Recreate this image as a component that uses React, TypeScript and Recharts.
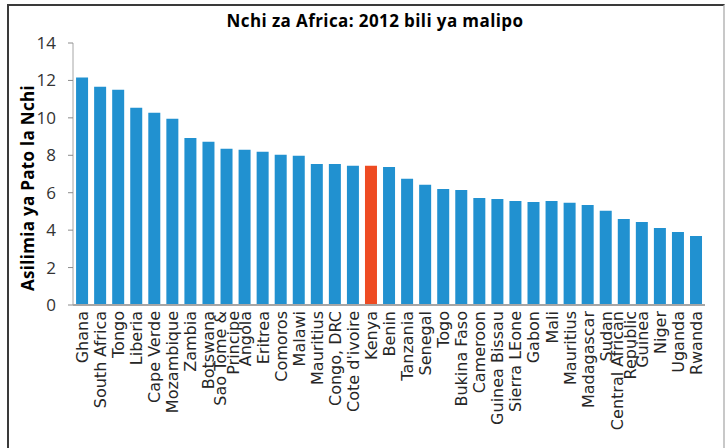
import React from 'react'
import { BarChart, Bar, XAxis, YAxis, Cell } from 'recharts'

const countries = [
  'Ghana', 'South Africa', 'Tongo', 'Liberia', 'Cape Verde', 'Mozambique', 'Zambia',
  'Botswana', 'Sao Tome &\nPrincipe', 'Angola', 'Eritrea', 'Comoros', 'Malawi', 'Mauritius',
  'Congo, DRC', "Cote d'ivoire", 'Kenya', 'Benin', 'Tanzania', 'Senegal', 'Togo',
  'Bukina Faso', 'Cameroon', 'Guinea Bissau', 'Sierra LEone', 'Gabon', 'Mali', 'Mauritius',
  'Madagascar', 'Sudan', 'Central African\nRepublic', 'Guinea', 'Niger', 'Uganda', 'Rwanda',
]
const values = [
  12.15, 11.66, 11.5, 10.54, 10.27, 9.95, 8.93,
  8.72, 8.35, 8.3, 8.19, 8.03, 7.97, 7.54,
  7.54, 7.44, 7.44, 7.38, 6.74, 6.42, 6.2,
  6.15, 5.72, 5.67, 5.56, 5.51, 5.56, 5.46,
  5.35, 5.03, 4.6, 4.44, 4.12, 3.9, 3.69,
]
const yTicks = [0, 2, 4, 6, 8, 10, 12, 14]
const highlight = 'Kenya'

const BLUE = '#2191d0'
const RED = '#ee4b22'
const FONT = '"Open Sans", "DejaVu Sans", sans-serif'
const LABEL_FONT = '"DejaVu Sans", sans-serif'

const data = countries.map((name, i) => ({ name, value: values[i] }))

// rotated category labels, some split over two lines
function CountryTick(props: any) {
  const { x, y, payload } = props
  const lines = String(payload.value).split('\n')
  const lh = 13
  const start = -((lines.length - 1) * lh) / 2
  return (
    <g transform={`translate(${x},${y})`}>
      <text
        transform="rotate(-90)"
        textAnchor="end"
        fontFamily={LABEL_FONT}
        fontSize={16}
        fill="#262626"
      >
        {lines.map((l, i) => (
          <tspan key={i} x={2} y={start + i * lh + 6}>{l}</tspan>
        ))}
      </text>
    </g>
  )
}

export default function App() {
  return (
    <div style={{ position: 'absolute', left: 0, top: 0, width: 726, height: 448, overflow: 'hidden', background: '#fff' }}>
      <div
        style={{
          position: 'absolute', left: 7, top: 4, width: 714, height: 470,
          borderTop: '2px solid #3a3a3a', borderLeft: '2px solid #3a3a3a', borderRight: '2px solid #c8c8c8',
        }}
      />
      <div style={{ position: 'absolute', left: 0, top: 0 }}>
        <BarChart
          width={726}
          height={448}
          data={data}
          margin={{ top: 43, right: 21, left: 0, bottom: 0 }}
          barCategoryGap="17%"
        >
          <text x={375} y={27} textAnchor="middle" fontFamily={FONT} fontWeight={700} fontSize={17} letterSpacing={0.4} fill="#000">
            Nchi za Africa: 2012 bili ya malipo
          </text>
          <text
            transform="translate(34,188) rotate(-90)"
            textAnchor="middle"
            fontFamily={FONT}
            fontWeight={700}
            fontSize={17}
            letterSpacing={0.3}
            fill="#000"
          >
            Asilimia ya Pato la Nchi
          </text>
          <XAxis
            dataKey="name"
            interval={0}
            tickLine={false}
            axisLine={{ stroke: '#a6a6a6', strokeWidth: 2 }}
            height={143}
            tick={<CountryTick />}
          />
          <YAxis
            width={73}
            domain={[0, 14]}
            ticks={yTicks}
            tickSize={5}
            tickMargin={12}
            axisLine={{ stroke: '#a6a6a6' }}
            tickLine={{ stroke: '#8c8c8c' }}
            tick={{ fontFamily: FONT, fontSize: 17, fill: '#333' }}
          />
          <Bar dataKey="value" isAnimationActive={false}>
            {data.map((d, i) => (
              <Cell key={i} fill={d.name === highlight ? RED : BLUE} />
            ))}
          </Bar>
        </BarChart>
      </div>
    </div>
  )
}
